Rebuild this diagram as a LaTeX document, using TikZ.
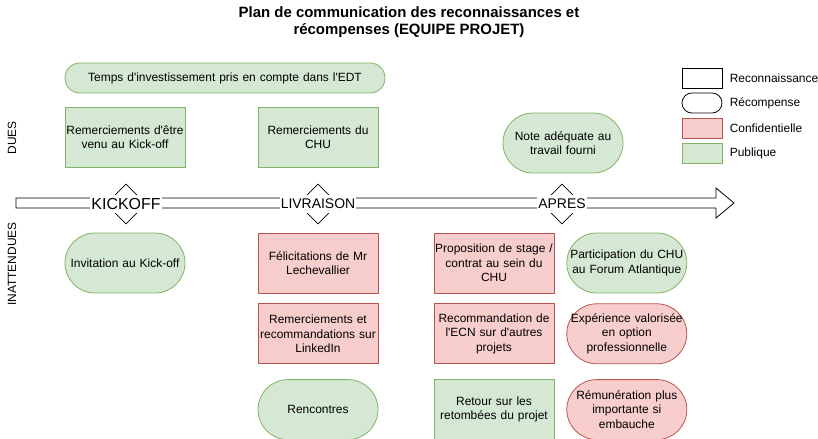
\documentclass[tikz,border=0pt]{standalone}
\usepackage{fontspec}
\setmainfont{Liberation Sans}[Ligatures=TeXOff]
\usetikzlibrary{shapes,shapes.geometric,positioning,calc}
\definecolor{pubfill}{HTML}{D5E8D4}
\definecolor{publine}{HTML}{82B366}
\definecolor{conffill}{HTML}{F8CECC}
\definecolor{confline}{HTML}{B85450}
\tikzset{
  rect/.style={
    draw,
    rectangle,
    minimum width=120bp,
    minimum height=60bp,
    text width=118bp,
    inner sep=1bp,
    align=center,
    font=\fontsize{12}{14.5}\selectfont,
  },
  rrect/.style={rect, rounded corners=29.9bp},
  pub/.style={fill=pubfill, draw=publine},
  conf/.style={fill=conffill, draw=confline},
  stage/.style={draw, diamond, minimum width=40bp, minimum height=40bp, inner sep=0pt, fill=white},
  stagelbl/.style={fill=white, inner sep=1bp, minimum height=18bp, font=\fontsize{14}{14}\selectfont},
  legbox/.style={draw, minimum width=40bp, minimum height=20bp, inner sep=0pt},
  legtxt/.style={anchor=west, inner sep=0pt, font=\fontsize{12}{14}\selectfont},
}

\begin{document}
\begin{tikzpicture}[x=1bp, y=-1bp, line width=0.8bp]
        \useasboundingbox (0,0) rectangle (818,439);

        \node[font=\bfseries\fontsize{15}{17}\selectfont, align=center] (title) at (409,22)
        {Plan de communication des reconnaissances et\\r\'ecompenses (EQUIPE PROJET)};

        % axe du temps
        \draw (16,198) -- (716,198) -- (716,188) -- (734,203) -- (716,218) -- (716,208) -- (16,208) -- cycle;

        \node[stage] (ko) at (126,204) {};
        \node[stagelbl, font=\fontsize{16}{16}\selectfont] (kolbl) at (ko) {KICKOFF};
        \node[stage] (livr) at (318,204) {};
        \node[stagelbl] (livrlbl) at (livr) {LIVRAISON};
        \node[stage] (apres) at (562,204) {};
        \node[stagelbl] (apreslbl) at (apres) {APRES};

        \node[rotate=90, font=\fontsize{12}{14}\selectfont] (dues) at (12,138) {DUES};
        \node[rotate=90, font=\fontsize{12}{14}\selectfont] (inatt) at (12,264) {INATTENDUES};

        % dues
        \node (edt) [rect, pub, minimum width=320bp, minimum height=30bp, text width=316bp, rounded corners=14.9bp]
        at (225,78) {Temps d'investissement pris en compte dans l'EDT};
        \node (kickoff) [rect, pub] at (125,137) {Remerciements d'\^etre\\venu au Kick-off};
        \node (chu) [rect, pub] at (318,137) {Remerciements du\\CHU};
        \node (note) [rrect, pub] at (563,143) {Note ad\'equate au\\travail fourni};

        % inattendues
        \node (invit) [rrect, pub] at (125,263) {Invitation au Kick-off};
        \node (felic) [rect, conf] at (318,263) {F\'elicitations de Mr\\Lechevallier};
        \node (linkedin) [rect, conf, below=10bp of felic] {Remerciements et\\recommandations sur\\LinkedIn};
        \node (rencontres) [rrect, pub, below=15bp of linkedin] {Rencontres};

        \node (stage) [rect, conf] at (494,263) {Proposition de stage /\\contrat au sein du\\CHU};
        \node (ecn) [rect, conf, below=10bp of stage] {Recommandation de\\l'ECN sur d'autres\\projets};
        \node (retour) [rect, pub, below=15bp of ecn] {Retour sur les\\retomb\'ees du projet};

        \node (forum) [rrect, pub, right=12bp of stage] {Participation du CHU\\au Forum Atlantique};
        \node (exper) [rrect, conf, below=10bp of forum] {Exp\'erience valoris\'ee\\en option\\professionnelle};
        \node (remun) [rrect, conf, below=15bp of exper] {R\'emun\'eration plus\\importante si\\embauche};

        % legende
        \node (legreco) [legbox] at (702,78) {};
        \node (legrecomp) [legbox, rounded corners=9.9bp] at (702,103) {};
        \node (legconf) [legbox, conf] at (702,128) {};
        \node (legpub) [legbox, pub] at (702,153) {};
        \node[legtxt] at ($(legreco.east)+(7bp,0)$) {Reconnaissance};
        \node[legtxt] at ($(legrecomp.east)+(7bp,0)$) {R\'ecompense};
        \node[legtxt] at ($(legconf.east)+(7bp,0)$) {Confidentielle};
        \node[legtxt] at ($(legpub.east)+(7bp,0)$) {Publique};
      \end{tikzpicture}
\end{document}
